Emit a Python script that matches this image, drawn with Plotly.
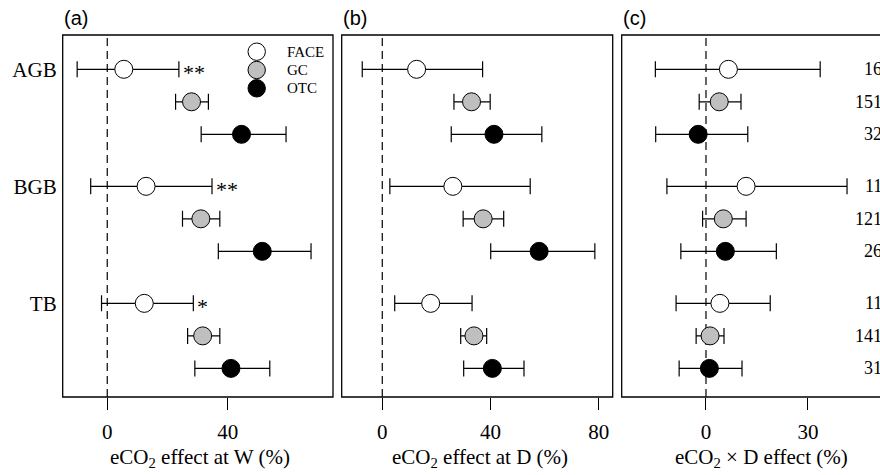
import plotly.graph_objects as go

# ---------------- data ----------------
groups = ["AGB", "BGB", "TB"]
systems = ["FACE", "GC", "OTC"]

# panel (a): eCO2 effect at W (%), rows ordered AGB(FACE,GC,OTC), BGB(...), TB(...)
w_mean = [5.5, 28.0, 44.6, 12.9, 31.1, 51.5, 12.3, 31.7, 41.1]
w_lo = [-10.0, 22.7, 31.2, -5.5, 25.0, 36.9, -1.9, 26.7, 29.1]
w_hi = [23.8, 33.6, 59.4, 34.8, 37.4, 67.7, 28.6, 37.4, 54.0]
w_sig = ["**", "", "", "**", "", "", "*", "", ""]

# panel (b): eCO2 effect at D (%)
d_mean = [12.7, 33.0, 41.3, 26.1, 37.3, 58.0, 17.9, 33.9, 40.7]
d_lo = [-7.4, 26.5, 25.5, 2.8, 29.9, 40.1, 4.6, 29.0, 30.1]
d_hi = [37.1, 39.9, 59.0, 54.7, 44.9, 78.6, 33.2, 38.6, 52.4]

# panel (c): eCO2 x D effect (%)
x_mean = [6.6, 3.9, -2.3, 11.8, 5.1, 5.7, 4.1, 1.2, 1.0]
x_lo = [-14.9, -2.0, -14.8, -11.5, -1.0, -7.4, -8.8, -2.9, -7.9]
x_hi = [33.6, 10.3, 12.3, 41.5, 11.8, 20.7, 18.9, 5.3, 10.6]
x_n = ["16", "151", "32", "11", "121", "26", "11", "141", "31"]

panel_titles = ["eCO<sub>2</sub> effect at W (%)",
                "eCO<sub>2</sub> effect at D (%)",
                "eCO<sub>2</sub> × D effect (%)"]
panel_letters = ["(a)", "(b)", "(c)"]
x_ticks = [[0, 40], [0, 40, 80], [0, 30, 60]]

# ---------------- styling / layout ----------------
W, H = 880, 475
TOP, BOT = 35, 397
PH = BOT - TOP
fills = {"FACE": "white", "GC": "#bfbfbf", "OTC": "black"}
SERIF = "Liberation Serif, Times New Roman, serif"
SANS = "Liberation Sans, Arial, sans-serif"

domains = [[62.7 / W, 333 / W], [341.7 / W, 612.7 / W], [621.7 / W, 1.0]]
ranges = [[-14.8, 75.0], [-15.0, 85.2], [-24.8, 51.2]]
frame_right = [333 / W, 612.7 / W, 892 / W]
title_x = [200 / W, 480 / W, 761 / W]

GROUP_STEP = 3.6
def ypos(i):
    g, s = divmod(i, 3)
    return g * GROUP_STEP + s

yvals = [ypos(i) for i in range(9)]
y_range = [10.08, -1.055]

fig = go.Figure()
panels = [(w_mean, w_lo, w_hi), (d_mean, d_lo, d_hi), (x_mean, x_lo, x_hi)]

for p, (m, lo, hi) in enumerate(panels):
    xa = "x" if p == 0 else f"x{p+1}"
    ya = "y" if p == 0 else f"y{p+1}"
    for s, sysname in enumerate(systems):
        idx = [g * 3 + s for g in range(3)]
        fig.add_trace(go.Scatter(
            x=[m[i] for i in idx],
            y=[yvals[i] for i in idx],
            mode="markers",
            name=sysname,
            showlegend=False,
            marker=dict(size=18, color=fills[sysname], line=dict(color="black", width=1)),
            error_x=dict(type="data", symmetric=False,
                         array=[hi[i] - m[i] for i in idx],
                         arrayminus=[m[i] - lo[i] for i in idx],
                         color="black", thickness=1.2, width=8),
            xaxis=xa, yaxis=ya,
        ))
    # dashed zero line
    fig.add_shape(type="line", xref=xa, yref=f"{ya} domain", x0=0, x1=0, y0=0, y1=1,
                  line=dict(color="black", width=1.2, dash="8px,5px"), layer="below")
    # frame
    fig.add_shape(type="rect", xref="paper", yref="paper",
                  x0=domains[p][0], x1=frame_right[p], y0=0, y1=1,
                  line=dict(color="black", width=1.3))
    # panel letter
    fig.add_annotation(xref="paper", yref="paper", x=domains[p][0] - 1 / W, y=1 + (TOP - 18) / PH,
                       text=panel_letters[p], showarrow=False, xanchor="left", yanchor="middle",
                       font=dict(family=SANS, size=20, color="black"))
    # axis title
    fig.add_annotation(xref="paper", yref="paper", x=title_x[p], y=-(458 - BOT) / PH,
                       text=panel_titles[p], showarrow=False, xanchor="center", yanchor="middle",
                       font=dict(family=SERIF, size=21, color="black"))

# legend (panel a, drawn as circles + labels)
for k, sysname in enumerate(systems):
    cy = 51.7 + k * 18.3
    fig.add_shape(type="circle", xref="paper", yref="paper",
                  x0=(256.7 - 8.7) / W, x1=(256.7 + 8.7) / W,
                  y0=(BOT - cy - 8.7) / PH, y1=(BOT - cy + 8.7) / PH,
                  fillcolor=fills[sysname], line=dict(color="black", width=1))
    fig.add_annotation(xref="paper", yref="paper", x=285 / W, y=(BOT - cy) / PH,
                       text=sysname, showarrow=False, xanchor="left", yanchor="middle",
                       font=dict(family=SERIF, size=15, color="black"))

# significance stars (panel a)
for i, sig in enumerate(w_sig):
    if sig:
        fig.add_annotation(xref="x", yref="y", x=w_hi[i], y=yvals[i], text=sig, showarrow=False,
                           xanchor="left", yanchor="middle", xshift=2, yshift=-3,
                           font=dict(family=SERIF, size=22, color="black"))

# sample sizes (panel c, cut at the right edge of the figure)
for i, n in enumerate(x_n):
    fig.add_annotation(xref="paper", yref="y3", x=884 / W, y=yvals[i], text=n, showarrow=False,
                       xanchor="right", yanchor="middle",
                       font=dict(family=SERIF, size=18, color="black"))

axis_common = dict(showgrid=False, zeroline=False, showline=False,
                   ticks="outside", ticklen=12, tickwidth=1.3, tickcolor="black",
                   ticklabelstandoff=4,
                   tickfont=dict(family=SERIF, size=21, color="black"))
for p in range(3):
    key = "xaxis" if p == 0 else f"xaxis{p+1}"
    ykey = "yaxis" if p == 0 else f"yaxis{p+1}"
    fig.layout[key] = dict(domain=domains[p], range=ranges[p], tickmode="array",
                           tickvals=x_ticks[p], ticktext=[str(t) for t in x_ticks[p]],
                           anchor="y" if p == 0 else f"y{p+1}", **axis_common)
    yax = dict(domain=[0, 1], range=y_range, showgrid=False, zeroline=False,
               showline=False, ticks="", anchor="x" if p == 0 else f"x{p+1}")
    if p == 0:
        yax.update(tickmode="array", tickvals=[yvals[g * 3] for g in range(3)],
                   ticktext=groups, ticklabelstandoff=5,
                   tickfont=dict(family=SERIF, size=21, color="black"))
    else:
        yax.update(showticklabels=False)
    fig.layout[ykey] = yax

fig.update_layout(
    width=W, height=H,
    margin=dict(l=0, r=0, t=TOP, b=H - BOT),
    paper_bgcolor="white", plot_bgcolor="white",
    showlegend=False,
)

fig.write_html("out.html", config={"displayModeBar": False},
               post_script="document.body.style.margin='0';document.body.style.overflow='hidden';")
